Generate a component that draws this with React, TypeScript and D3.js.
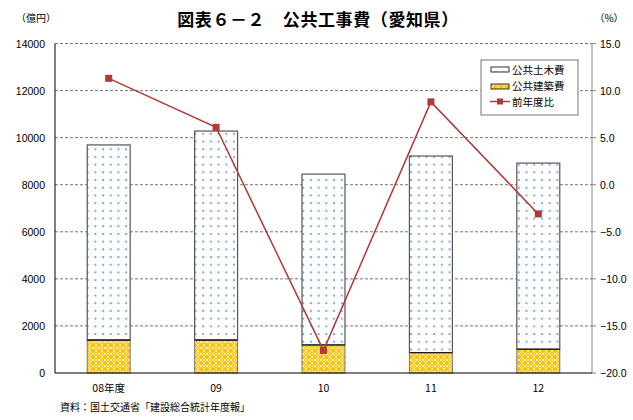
import React from "react";
import * as d3 from "d3";

const categories = ["08年度", "09", "10", "11", "12"];
const civilValues = [8290, 8880, 7260, 8360, 7910];
const buildingValues = [1400, 1400, 1190, 860, 1010];
const yoyValues = [11.3, 6.1, -17.6, 8.8, -3.1];
const leftTicks = [0, 2000, 4000, 6000, 8000, 10000, 12000, 14000];
const rightTicks = [-20, -15, -10, -5, 0, 5, 10, 15];
const legendLabels = ["公共土木費", "公共建築費", "前年度比"];

const W = 633, H = 420;
const M = { left: 55, right: 592, top: 43.5, bottom: 373 };
const FONT = "'Liberation Sans', 'Noto Sans CJK JP', sans-serif";
const JFONT = "'Noto Sans CJK JP', 'Liberation Sans', sans-serif";

export default function App() {
  const x = d3.scaleBand<string>().domain(categories).range([M.left, M.right]).paddingInner(0.6).paddingOuter(0.3);
  const yL = d3.scaleLinear().domain([0, 14000]).range([M.bottom, M.top]);
  const yR = d3.scaleLinear().domain([-20, 15]).range([M.bottom, M.top]);
  const bw = x.bandwidth();
  const line = d3.line<number>()
    .x((_, i) => (x(categories[i]) as number) + bw / 2)
    .y((d) => yR(d));
  const lineColor = "#b03a35";

  return (
    <svg width={W} height={H} style={{ position: "absolute", left: 0, top: 0, background: "#fff" }}>
      <defs>
        <pattern id="dots" width="7.7" height="7.7" patternUnits="userSpaceOnUse" x="0" y="0">
          <rect width="7.7" height="7.7" fill="#fff" />
          <circle cx="3" cy="3" r="1.1" fill="#6a9be0" />
        </pattern>
        <pattern id="lattice" width="6" height="6" patternUnits="userSpaceOnUse">
          <rect width="6" height="6" fill="#ffc000" />
          <path d="M0,3 L3,0 L6,3 L3,6 Z" fill="none" stroke="#fff3c4" strokeWidth="0.9" />
          <circle cx="0" cy="0" r="0.9" fill="#fff3c4" />
          <circle cx="6" cy="6" r="0.9" fill="#fff3c4" />
          <circle cx="6" cy="0" r="0.9" fill="#fff3c4" />
          <circle cx="0" cy="6" r="0.9" fill="#fff3c4" />
        </pattern>
      </defs>

      {/* Title */}
      <text x={318} y={26} textAnchor="middle" fontFamily={JFONT} fontWeight="bold" fontSize={17} letterSpacing={0.6} fill="#000">
        図表６－２　公共工事費（愛知県）
      </text>
      <text x={36} y={22} textAnchor="middle" fontFamily={JFONT} fontSize={10} fill="#000">（億円）</text>
      <text x={609} y={22} textAnchor="middle" fontFamily={JFONT} fontSize={10} fill="#000">（%）</text>

      {/* gridlines */}
      {leftTicks.filter((t) => t > 0).map((t) => (
        <line key={t} x1={M.left} x2={M.right} y1={yL(t)} y2={yL(t)} stroke="#666" strokeWidth={0.9} strokeDasharray="3,2" />
      ))}

      {/* bars */}
      {categories.map((c, i) => {
        const x0 = x(c) as number;
        const b = buildingValues[i];
        const tot = b + civilValues[i];
        return (
          <g key={c}>
            <rect x={x0} y={yL(tot)} width={bw} height={yL(b) - yL(tot)} fill="url(#dots)" stroke="#555" strokeWidth={1.2} />
            <rect x={x0} y={yL(b)} width={bw} height={yL(0) - yL(b)} fill="url(#lattice)" stroke="#777" strokeWidth={1} />
            <line x1={x0} x2={x0 + bw} y1={yL(b)} y2={yL(b)} stroke="#000" strokeWidth={1.2} />
          </g>
        );
      })}

      {/* axes */}
      <line x1={M.left} x2={M.left} y1={M.top} y2={M.bottom} stroke="#000" strokeWidth={1} />
      <line x1={M.right} x2={M.right} y1={M.top} y2={M.bottom} stroke="#888" strokeWidth={1} />
      <line x1={M.left} x2={M.right} y1={M.bottom} y2={M.bottom} stroke="#000" strokeWidth={1.2} />
      {rightTicks.map((t) => (
        <line key={t} x1={M.right} x2={M.right + 4} y1={yR(t)} y2={yR(t)} stroke="#888" strokeWidth={1} />
      ))}

      {leftTicks.map((t) => (
        <text key={t} x={45} y={yL(t) + 4} textAnchor="end" fontFamily={FONT} fontSize={10.5} fill="#000">{t}</text>
      ))}
      {rightTicks.map((t) => (
        <text key={t} x={600} y={yR(t) + 4} textAnchor="start" fontFamily={FONT} fontSize={10.5} fill="#000">
          {d3.format(".1f")(t).replace("-", "−")}
        </text>
      ))}
      {categories.map((c) => (
        <text key={c} x={(x(c) as number) + bw / 2} y={392} textAnchor="middle" fontFamily={JFONT} fontSize={10.5} fill="#000">{c}</text>
      ))}

      {/* line */}
      <path d={line(yoyValues) || ""} fill="none" stroke={lineColor} strokeWidth={1.5} />
      {yoyValues.map((v, i) => (
        <rect key={i} x={(x(categories[i]) as number) + bw / 2 - 3.5} y={yR(v) - 3.5} width={7} height={7} fill={lineColor} />
      ))}

      {/* legend */}
      <g>
        <rect x={481} y={60} width={97} height={55} fill="#fff" stroke="#777" strokeWidth={1} />
        <rect x={491} y={67} width={18} height={5} fill="url(#dots)" stroke="#000" strokeWidth={0.8} />
        <rect x={491} y={84} width={18} height={5} fill="url(#lattice)" stroke="#000" strokeWidth={0.8} />
        <line x1={490} x2={510} y1={101.5} y2={101.5} stroke={lineColor} strokeWidth={1.5} />
        <rect x={497} y={98.5} width={6} height={6} fill={lineColor} />
        {legendLabels.map((l, i) => (
          <text key={l} x={512} y={73.5 + i * 16} fontFamily={JFONT} fontSize={10.5} fill="#000">{l}</text>
        ))}
      </g>

      <text x={60} y={411} fontFamily={JFONT} fontSize={10} fill="#000">資料：国土交通省「建設総合統計年度報」</text>
    </svg>
  );
}
